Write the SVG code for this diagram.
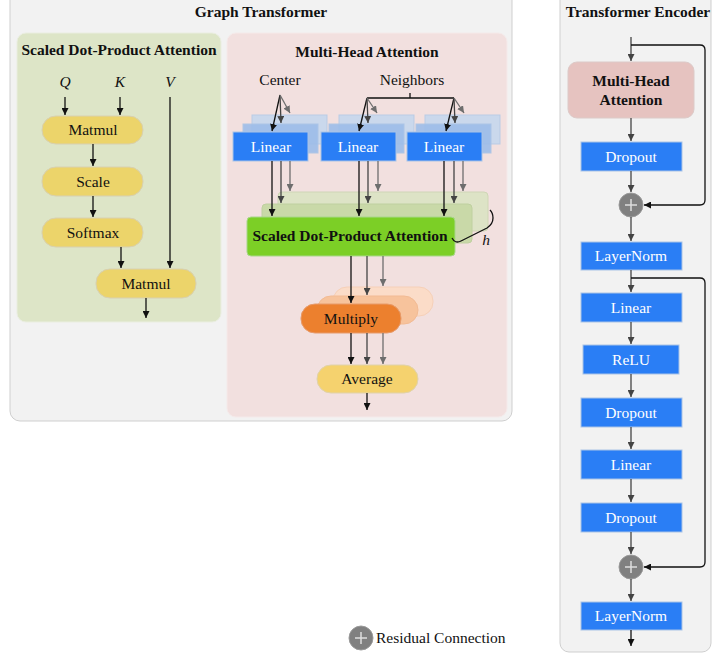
<svg xmlns="http://www.w3.org/2000/svg" width="713" height="653" viewBox="0 0 713 653">
<defs>
<marker id="ab" viewBox="0 0 10 10" refX="10" refY="5" markerWidth="7" markerHeight="7" markerUnits="userSpaceOnUse" orient="auto"><path d="M0,0L10,5L0,10z" fill="#111"/></marker>
<marker id="ag" viewBox="0 0 10 10" refX="10" refY="5" markerWidth="7" markerHeight="7" markerUnits="userSpaceOnUse" orient="auto"><path d="M0,0L10,5L0,10z" fill="#444"/></marker>
<marker id="al" viewBox="0 0 10 10" refX="10" refY="5" markerWidth="7" markerHeight="7" markerUnits="userSpaceOnUse" orient="auto"><path d="M0,0L10,5L0,10z" fill="#6e6e6e"/></marker>
</defs>
<style>
text{font-family:"Liberation Serif","Times New Roman",serif;font-size:15.5px;fill:#111;text-anchor:middle}
.b{font-weight:bold}
.i{font-style:italic}
.w{fill:#fff}
.panel{fill:#f2f2f2;stroke:#cfcfcf;stroke-width:1}
.yel{fill:#ecd46a;stroke:#d8d0b0;stroke-width:1}
.blue{fill:#2a7ef5;stroke:#a9c3e6;stroke-width:1}
.eb{stroke:#111;stroke-width:1.3;fill:none;marker-end:url(#ab)}
.eg{stroke:#444;stroke-width:1.3;fill:none;marker-end:url(#ag)}
.el{stroke:#6e6e6e;stroke-width:1.3;fill:none;marker-end:url(#al)}
.ln{stroke:#111;stroke-width:1.3;fill:none}
.circ{fill:#808080;stroke:#9a9a9a}
.plus{stroke:#ddd;stroke-width:1.5}
</style>

<!-- Graph Transformer panel -->
<g id="graph-transformer">
<rect class="panel" x="10" y="-10" width="502" height="431" rx="10"/>
<text class="b" x="261" y="17">Graph Transformer</text>
</g>

<!-- Scaled Dot-Product Attention panel -->
<g id="sdpa-panel">
<rect x="17" y="33" width="204" height="289" rx="9" fill="#dde5c7" stroke="#eaeee0"/>
<text class="b" x="119" y="55">Scaled Dot-Product Attention</text>
<text class="i" x="65" y="87">Q</text>
<text class="i" x="120" y="87">K</text>
<text class="i" x="170" y="87">V</text>
</g>
<g id="sdpa-matmul1"><rect class="yel" x="42" y="116" width="101" height="28" rx="14"/><text x="93" y="135">Matmul</text></g>
<g id="sdpa-scale"><rect class="yel" x="42" y="167" width="101" height="29" rx="14"/><text x="93" y="187">Scale</text></g>
<g id="sdpa-softmax"><rect class="yel" x="42" y="218" width="101" height="29" rx="14"/><text x="93" y="238">Softmax</text></g>
<g id="sdpa-matmul2"><rect class="yel" x="96" y="269" width="100" height="29" rx="14"/><text x="146" y="289">Matmul</text></g>

<!-- Multi-Head Attention panel -->
<g id="mha-panel">
<rect x="227" y="33" width="280" height="384" rx="9" fill="#f2e0df" stroke="#f5eaea"/>
<text class="b" x="367" y="57">Multi-Head Attention</text>
<text x="280" y="85">Center</text>
<text x="412" y="85">Neighbors</text>
</g>

<g id="linear-1">
<rect x="252" y="115" width="75" height="29" fill="#cad8ec" stroke="#b9cbe5"/>
<rect x="243" y="124" width="75" height="29" fill="#9dbde9" stroke="#a9c3e6" opacity="0.9"/>
<rect class="blue" x="233" y="132" width="75" height="29" fill="#1f77f2"/>
<text class="w" x="271" y="152">Linear</text>
</g>
<g id="linear-2">
<rect x="339" y="115" width="75" height="29" fill="#cad8ec" stroke="#b9cbe5"/>
<rect x="329" y="124" width="75" height="29" fill="#9dbde9" stroke="#a9c3e6" opacity="0.9"/>
<rect class="blue" x="321" y="132" width="75" height="29"/>
<text class="w" x="358" y="152">Linear</text>
</g>
<g id="linear-3">
<rect x="425" y="115" width="75" height="29" fill="#cad8ec" stroke="#b9cbe5"/>
<rect x="416" y="124" width="75" height="29" fill="#9dbde9" stroke="#a9c3e6" opacity="0.9"/>
<rect class="blue" x="407" y="132" width="75" height="29"/>
<text class="w" x="444" y="152">Linear</text>
</g>

<g id="sdpa-heads">
<rect x="278" y="192" width="210" height="39" rx="4" fill="#dde3c6" stroke="#cfd6b6"/>
<rect x="262" y="204" width="210" height="39" rx="4" fill="#c9d9a8" stroke="#bfd0a0"/>
<rect x="247" y="217" width="208" height="39" rx="4" fill="#7ccf26" stroke="#a8d78a"/>
<text class="b" x="350" y="241">Scaled Dot-Product Attention</text>
<path class="ln" d="M452,238 Q455,244 461,241 L487,228 Q493,224 493,218 Q493,213 490,210"/>
<text class="i" x="486" y="245">h</text>
</g>

<g id="multiply">
<rect x="333" y="287" width="100" height="29" rx="14" fill="#fbdcc8" stroke="#f6d0b8"/>
<rect x="317" y="296" width="101" height="28" rx="14" fill="#f7c39c" stroke="#f2bb94"/>
<rect x="301" y="304" width="100" height="29" rx="14" fill="#ec802e" stroke="#e79a6a"/>
<text x="351" y="324">Multiply</text>
</g>
<g id="average"><rect x="317" y="365" width="101" height="28" rx="14" fill="#f5d26e" stroke="#e0d2aa"/><text x="367" y="384">Average</text></g>

<!-- Transformer Encoder -->
<g id="encoder-panel">
<rect class="panel" x="560" y="-10" width="151" height="662" rx="9"/>
<text class="b" x="638" y="17">Transformer Encoder</text>
</g>
<g id="enc-mha"><rect x="568" y="62" width="126" height="56" rx="9" fill="#e6c3c0" stroke="#dccac8"/><text class="b" x="631" y="86">Multi-Head</text><text class="b" x="631" y="105">Attention</text></g>
<g id="enc-dropout1"><rect class="blue" x="581" y="142" width="101" height="29"/><text class="w" x="631" y="162">Dropout</text></g>
<g id="enc-add1"><circle class="circ" cx="631" cy="205" r="12"/><path class="plus" d="M625,205H637M631,199V211"/></g>
<g id="enc-norm1"><rect class="blue" x="581" y="242" width="101" height="28"/><text class="w" x="631" y="261">LayerNorm</text></g>
<g id="enc-linear1"><rect class="blue" x="581" y="293" width="101" height="29"/><text class="w" x="631" y="313">Linear</text></g>
<g id="enc-relu"><rect class="blue" x="583" y="345" width="96" height="29"/><text class="w" x="631" y="365">ReLU</text></g>
<g id="enc-dropout2"><rect class="blue" x="581" y="398" width="101" height="29"/><text class="w" x="631" y="418">Dropout</text></g>
<g id="enc-linear2"><rect class="blue" x="581" y="450" width="101" height="29"/><text class="w" x="631" y="470">Linear</text></g>
<g id="enc-dropout3"><rect class="blue" x="581" y="503" width="101" height="29"/><text class="w" x="631" y="523">Dropout</text></g>
<g id="enc-add2"><circle class="circ" cx="631" cy="567" r="12"/><path class="plus" d="M625,567H637M631,561V573"/></g>
<g id="enc-norm2"><rect class="blue" x="581" y="602" width="101" height="28"/><text class="w" x="631" y="621">LayerNorm</text></g>

<g id="legend"><circle class="circ" cx="361" cy="638" r="12"/><path class="plus" d="M355,638H367M361,632V644"/><text x="376" y="643" style="text-anchor:start">Residual Connection</text></g>

<g id="connectors">
<!-- SDPA -->
<path class="eb" d="M65,97V115"/>
<path class="eb" d="M120,97V115"/>
<path class="eb" d="M93,144V166"/>
<path class="eb" d="M93,196V217"/>
<path class="eb" d="M121,247V268"/>
<path class="eb" d="M170,97V268"/>
<path class="eb" d="M146,298V318"/>
<!-- MHA inputs -->
<path class="eb" d="M280,95L272,131"/>
<path class="eg" d="M280,95L281,123"/>
<path class="el" d="M280,95L290,113"/>
<path class="ln" d="M410,93V98M367,98H454"/>
<path class="eb" d="M367,98L359,131"/>
<path class="eg" d="M367,98L368,123"/>
<path class="el" d="M367,98L377,113"/>
<path class="eb" d="M454,98L446,131"/>
<path class="eg" d="M454,98L455,123"/>
<path class="el" d="M454,98L464,113"/>
<!-- Linear to SDPA -->
<path class="eb" d="M272,161V216"/>
<path class="eg" d="M281,161V203"/>
<path class="el" d="M290,161V191"/>
<path class="eb" d="M359,161V216"/>
<path class="eg" d="M368,161V203"/>
<path class="el" d="M378,161V191"/>
<path class="eb" d="M444,161V216"/>
<path class="eg" d="M454,161V203"/>
<path class="el" d="M463,161V191"/>
<!-- SDPA to Multiply -->
<path class="eb" d="M351,256V303"/>
<path class="eg" d="M367,256V295"/>
<path class="el" d="M383,256V286"/>
<!-- Multiply to Average -->
<path class="eb" d="M351,333V364"/>
<path class="eg" d="M367,333V364"/>
<path class="el" d="M383,333V364"/>
<path class="eb" d="M367,393V410"/>
<!-- Encoder -->
<path class="eg" d="M631,37V61"/>
<path class="ln" d="M631,45H700Q705,45 705,50V200Q705,205 700,205H644" style="marker-end:url(#ab)"/>
<path class="eg" d="M631,118V141"/>
<path class="eg" d="M631,171V192"/>
<path class="eg" d="M631,217V241"/>
<path class="eg" d="M631,270V292"/>
<path class="ln" d="M631,278H700Q705,278 705,283V562Q705,567 700,567H644" style="marker-end:url(#ab)"/>
<path class="eg" d="M631,322V344"/>
<path class="eg" d="M631,374V397"/>
<path class="eg" d="M631,427V449"/>
<path class="eg" d="M631,479V502"/>
<path class="eg" d="M631,532V554"/>
<path class="eg" d="M631,579V601"/>
<path class="eb" d="M631,630V646"/>
</g>
</svg>
